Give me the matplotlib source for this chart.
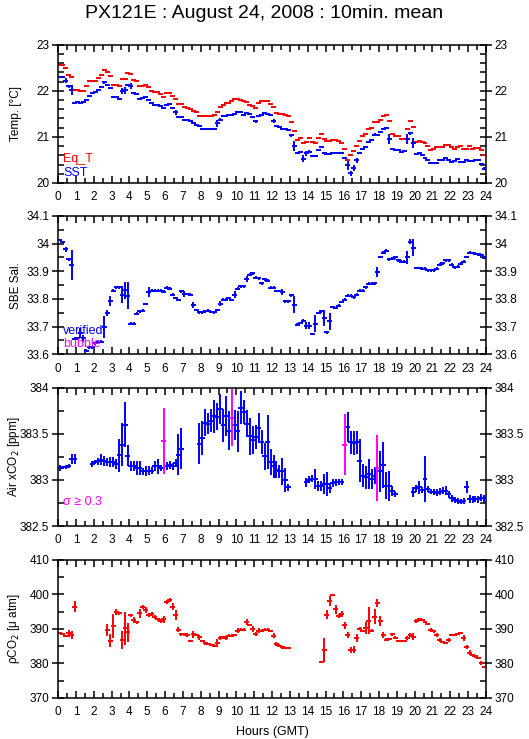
import numpy as np
import matplotlib.pyplot as plt
from matplotlib.ticker import MultipleLocator

plt.rcParams['font.family'] = ['Liberation Sans', 'DejaVu Sans']

nan = np.nan

# 10-minute means, one row per hour (6 values each)
eq_t = [
    [22.55, 22.55, 22.50, 22.35, 22.30, 22.02],
    [22.02, 22.00, 22.00, 22.10, 22.22, 22.22],
    [22.22, 22.28, 22.35, 22.44, 22.40, 22.33],
    [22.13, 22.13, 22.10, 22.26, 22.26, 22.39],
    [22.36, 22.23, 22.22, 22.10, 22.10, 22.12],
    [22.08, 22.00, 21.97, 21.97, 21.93, 21.87],
    [21.95, 21.95, 21.88, 21.83, 21.71, 21.71],
    [21.65, 21.63, 21.61, 21.57, 21.53, 21.45],
    [21.45, 21.45, 21.45, 21.45, 21.47, 21.55],
    [21.65, 21.70, 21.73, 21.73, 21.77, 21.82],
    [21.82, 21.80, 21.78, 21.76, 21.70, 21.66],
    [21.63, 21.73, 21.78, 21.78, 21.78, 21.72],
    [21.65, 21.51, 21.50, 21.49, 21.47, 21.45],
    [21.33, 21.13, 20.94, 20.97, 20.87, 20.88],
    [20.97, 20.89, 20.87, 20.97, 21.06, 20.95],
    [20.90, 20.92, 20.93, 20.93, 20.92, 20.87],
    [20.74, 20.50, 20.61, 20.70, 20.80, 20.91],
    [21.02, 21.06, 21.16, 21.20, 21.32, 21.32],
    [21.37, 21.46, 21.47, 21.34, 21.06, 21.02],
    [21.02, 20.95, 20.96, 21.17, 21.34, 21.22],
    [20.88, 20.92, 20.88, 20.86, 20.81, 20.71],
    [20.73, 20.78, 20.78, 20.78, 20.83, 20.83],
    [20.78, 20.74, 20.78, 20.80, 20.74, 20.74],
    [20.80, 20.74, 20.75, 20.76, 20.71, 20.61],
]

sst = [
    [22.29, 22.29, 22.22, 22.10, 22.01, 21.73],
    [21.76, 21.73, 21.75, 21.81, 21.89, 21.95],
    [21.98, 22.02, 22.08, 22.18, 22.12, 22.06],
    [21.87, 21.87, 21.82, 22.00, 22.01, 22.13],
    [22.10, 21.95, 21.94, 21.82, 21.85, 21.86],
    [21.79, 21.73, 21.69, 21.69, 21.66, 21.63],
    [21.69, 21.71, 21.63, 21.53, 21.44, 21.44],
    [21.37, 21.36, 21.34, 21.29, 21.26, 21.23],
    [21.16, 21.16, 21.16, 21.16, 21.16, 21.29],
    [21.37, 21.45, 21.46, 21.47, 21.48, 21.50],
    [21.54, 21.54, 21.47, 21.51, 21.49, 21.43],
    [21.34, 21.45, 21.48, 21.51, 21.50, 21.48],
    [21.34, 21.24, 21.22, 21.18, 21.16, 21.15],
    [21.03, 20.81, 20.64, 20.68, 20.53, 20.64],
    [20.68, 20.59, 20.59, 20.72, 20.79, 20.65],
    [20.63, 20.63, 20.65, 20.64, 20.65, 20.65],
    [20.55, 20.38, 20.21, 20.33, 20.49, 20.64],
    [20.73, 20.78, 20.88, 20.94, 21.05, 21.05],
    [21.10, 21.17, 21.19, 20.95, 20.73, 20.72],
    [20.72, 20.68, 20.69, 20.95, 21.08, 20.86],
    [20.63, 20.64, 20.61, 20.55, 20.50, 20.43],
    [20.44, 20.44, 20.50, 20.50, 20.55, 20.50],
    [20.46, 20.48, 20.51, 20.46, 20.46, 20.50],
    [20.48, 20.48, 20.49, 20.50, 20.41, 20.31],
]

sst_err = [
    [.02, .02, .06, .03, .11, .02],
    [.02, .02, .02, .02, .02, .02],
    [.02, .02, .02, .03, .02, .03],
    [.02, .02, .02, .06, .07, .02],
    [.06, .02, .02, .02, .02, .02],
    [.02, .02, .02, .02, .02, .02],
    [.02, .02, .02, .06, .02, .02],
    [.02, .02, .02, .02, .02, .02],
    [.02, .02, .02, .02, .02, .07],
    [.03, .02, .02, .02, .02, .02],
    [.02, .02, .02, .02, .02, .02],
    [.03, .02, .02, .02, .02, .02],
    [.05, .02, .02, .02, .02, .02],
    [.03, .11, .02, .02, .07, .05],
    [.04, .02, .02, .02, .02, .02],
    [.02, .02, .02, .02, .02, .02],
    [.02, .09, .05, .06, .05, .02],
    [.02, .02, .02, .02, .04, .02],
    [.02, .02, .02, .11, .02, .02],
    [.02, .02, .02, .11, .03, .11],
    [.02, .02, .02, .02, .02, .02],
    [.02, .02, .02, .02, .02, .02],
    [.02, .02, .02, .02, .02, .02],
    [.02, .02, .02, .02, .03, .03],
]

sal = [
    [34.013, 34.006, 33.979, 33.943, 33.923, 33.656],
    [33.658, 33.676, 33.658, 33.613, 33.625, 33.625],
    [33.640, 33.646, 33.646, 33.698, 33.749, 33.794],
    [33.830, 33.842, 33.842, 33.815, 33.831, 33.812],
    [33.710, 33.710, 33.746, 33.755, 33.757, 33.782],
    [33.824, 33.830, 33.830, 33.830, 33.830, 33.826],
    [33.840, 33.837, 33.815, 33.803, 33.796, 33.828],
    [33.818, 33.818, 33.815, 33.779, 33.760, 33.751],
    [33.751, 33.755, 33.757, 33.753, 33.751, 33.760],
    [33.783, 33.797, 33.797, 33.803, 33.796, 33.815],
    [33.837, 33.846, 33.846, 33.872, 33.887, 33.892],
    [33.877, 33.874, 33.857, 33.871, 33.866, 33.840],
    [33.840, 33.829, 33.829, 33.825, 33.791, 33.791],
    [33.813, 33.779, 33.707, 33.713, 33.721, 33.704],
    [33.704, 33.673, 33.711, 33.749, 33.755, 33.731],
    [33.680, 33.719, 33.771, 33.767, 33.776, 33.789],
    [33.797, 33.812, 33.812, 33.806, 33.815, 33.830],
    [33.830, 33.842, 33.855, 33.855, 33.857, 33.898],
    [33.952, 33.967, 33.975, 33.943, 33.946, 33.951],
    [33.940, 33.934, 33.934, 33.951, 34.007, 33.985],
    [33.912, 33.912, 33.910, 33.909, 33.904, 33.903],
    [33.904, 33.910, 33.924, 33.929, 33.939, 33.939],
    [33.924, 33.915, 33.917, 33.927, 33.934, 33.952],
    [33.967, 33.966, 33.963, 33.961, 33.958, 33.949],
]

sal_err = [
    [.005, .005, .010, .006, .055, .005],
    [.005, .018, .012, .005, .005, .005],
    [.005, .005, .005, .040, .012, .018],
    [.005, .005, .005, .030, .030, .050],
    [.005, .005, .005, .005, .005, .005],
    [.018, .005, .005, .005, .005, .005],
    [.005, .005, .005, .005, .005, .005],
    [.012, .005, .005, .010, .005, .005],
    [.005, .005, .005, .005, .005, .005],
    [.010, .005, .005, .005, .005, .012],
    [.005, .005, .005, .010, .005, .005],
    [.005, .005, .005, .005, .005, .005],
    [.005, .005, .005, .010, .005, .005],
    [.006, .030, .005, .005, .005, .012],
    [.012, .005, .030, .005, .005, .030],
    [.005, .030, .005, .005, .005, .005],
    [.005, .005, .005, .005, .005, .005],
    [.005, .005, .005, .005, .005, .018],
    [.005, .005, .005, .005, .005, .005],
    [.005, .005, .005, .024, .010, .030],
    [.005, .005, .005, .005, .005, .005],
    [.005, .005, .005, .005, .005, .005],
    [.005, .005, .005, .005, .005, .005],
    [.005, .005, .005, .005, .005, .005],
]

air = [
    [383.128, 383.135, 383.139, 383.150, 383.226, 383.226],
    [nan, nan, nan, nan, nan, 383.172],
    [383.194, 383.201, 383.219, 383.201, 383.194, 383.194],
    [383.194, 383.172, 383.266, 383.382, 383.600, 383.263],
    [383.154, 383.154, 383.128, 383.128, 383.092, 383.099],
    [383.099, 383.099, 383.146, 383.146, 383.128, 383.419],
    [383.154, 383.157, 383.146, 383.183, 383.274, 383.339],
    [nan, nan, nan, nan, nan, 383.393],
    [383.455, 383.619, 383.611, 383.644, 383.691, 383.684],
    [383.771, 383.590, 383.695, 383.535, 383.673, 383.593],
    [383.528, 383.782, 383.738, 383.611, 383.473, 383.430],
    [383.466, 383.564, 383.412, 383.255, 383.412, 383.194],
    [383.146, 383.110, 383.092, 383.092, 383.001, 382.921],
    [nan, nan, nan, nan, nan, 382.972],
    [383.001, 383.012, 383.012, 382.936, 382.936, 382.954],
    [382.957, 382.910, 382.965, 382.972, 382.976, 382.976],
    [383.382, 383.575, 383.408, 383.401, 383.408, 383.208],
    [383.045, 383.027, 383.063, 383.012, 383.045, 383.128],
    [383.092, 383.157, 382.936, 382.936, 382.881, 382.849],
    [nan, nan, nan, nan, nan, 382.874],
    [382.910, 382.918, 382.892, 383.008, 382.903, 382.874],
    [382.867, 382.863, 382.874, 382.885, 382.885, 382.845],
    [382.801, 382.783, 382.772, 382.765, 382.772, 382.921],
    [382.794, 382.790, 382.794, 382.790, 382.809, 382.801],
]

air_sd = [
    [.030, .018, .025, .025, .054, .054],
    [nan, nan, nan, nan, nan, .030],
    [.022, .036, .060, .054, .047, .054],
    [.054, .054, .180, .230, .243, .116],
    [.054, .054, .073, .080, .036, .054],
    [.047, .036, .054, .084, .036, .360],
    [.044, .044, .036, .044, .225, .225],
    [nan, nan, nan, nan, nan, .220],
    [.180, .145, .110, .127, .180, .145],
    [.163, .180, .220, .210, .310, .163],
    [.220, .180, .127, .145, .200, .150],
    [.127, .163, .127, .145, .290, .145],
    [.127, .090, .073, .145, .127, .036],
    [nan, nan, nan, nan, nan, .044],
    [.036, .036, .110, .054, .054, .110],
    [.127, .054, .044, .036, .036, .036],
    [.330, .163, .127, .127, .127, .236],
    [.127, .127, .163, .110, .090, .360],
    [.220, .250, .145, .163, .054, .036],
    [nan, nan, nan, nan, nan, .054],
    [.036, .073, .036, .250, .030, .030],
    [.036, .036, .036, .036, .044, .036],
    [.036, .036, .030, .030, .030, .065],
    [.047, .036, .036, .036, .036, .036],
]

pco2 = [
    [388.8, 388.6, 388.0, 388.7, 388.2, 396.4],
    [nan, nan, nan, nan, nan, nan],
    [nan, nan, nan, nan, 389.6, 386.5],
    [390.8, 394.8, 394.5, 386.8, 390.2, 389.0],
    [393.9, 392.6, 391.9, 394.5, 396.3, 395.5],
    [394.0, 394.3, 393.5, 392.7, 392.3, 392.7],
    [397.7, 398.4, 396.4, 394.0, 389.8, 388.4],
    [388.4, 388.2, 386.5, 388.4, 388.2, 387.5],
    [386.5, 385.8, 385.6, 385.3, 385.1, 385.8],
    [387.3, 387.5, 387.3, 388.0, 388.0, 388.2],
    [389.5, 389.8, 389.7, 391.9, 391.1, 390.0],
    [388.4, 389.5, 389.5, 389.7, 389.7, 389.4],
    [388.0, 385.6, 385.1, 384.6, 384.5, 384.5],
    [nan, nan, nan, nan, nan, nan],
    [nan, nan, nan, nan, 380.4, 383.8],
    [394.1, 398.0, 399.9, 395.6, 393.7, 394.3],
    [391.0, 388.2, 383.8, 383.9, 387.4, 390.0],
    [389.5, 390.3, 392.4, 389.5, 393.5, 397.5],
    [392.2, 388.2, 386.9, 387.1, 388.4, 387.4],
    [386.4, 386.4, 386.4, 387.4, 388.2, 387.7],
    [392.2, 392.7, 392.5, 392.0, 391.3, 389.6],
    [389.3, 388.2, 386.7, 386.2, 385.9, 386.7],
    [388.1, 388.3, 388.6, 388.8, 387.4, 384.7],
    [383.1, 382.3, 382.0, 381.6, 380.2, 378.9],
]

pco2_err = [
    [.3, .3, .3, 1.0, 1.2, 1.6],
    [nan, nan, nan, nan, nan, nan],
    [nan, nan, nan, nan, 1.7, 1.9],
    [3.4, .8, .5, 2.7, 4.8, 2.7],
    [.5, .8, .5, 1.3, .5, .8],
    [.6, .6, .6, .5, .5, 1.0],
    [.6, .6, 1.0, 1.5, .8, .4],
    [.4, .6, .4, 1.0, .4, .6],
    [.4, .4, .4, .4, .4, 1.2],
    [.6, .4, .4, .4, .4, .4],
    [.6, .4, .4, .8, .4, .8],
    [.6, .8, .4, .4, .4, .4],
    [.8, .6, .4, .3, .3, .3],
    [nan, nan, nan, nan, nan, nan],
    [nan, nan, nan, nan, .3, 3.4],
    [1.4, 1.4, .3, 1.4, .5, .8],
    [1.0, 1.0, .8, 1.0, 1.2, .4],
    [.3, 1.7, 3.8, .5, 2.1, 1.2],
    [1.4, .8, .3, .3, .5, .4],
    [.3, .3, .3, .5, .5, 1.0],
    [.5, .3, .3, .3, .3, .5],
    [.5, .5, .5, .3, .3, .6],
    [.3, .3, .3, .3, .8, .5],
    [.8, .4, .3, .3, .6, .3],
]

hours = (np.arange(144) + 0.5) / 6.0
HW = 0.14  # half width of the 10 min bar


def flat(a):
    return np.array(a, dtype=float).ravel()


def bars(ax, x, y, err, color):
    ok = ~np.isnan(y)
    ax.errorbar(x[ok], y[ok], xerr=HW, yerr=None if err is None else err[ok],
                fmt='none', ecolor=color, elinewidth=1.4, capsize=0)


def style(ax, ylim, major, minor, ylabel):
    ax.set_xlim(0, 24)
    ax.set_ylim(*ylim)
    ax.xaxis.set_major_locator(MultipleLocator(1))
    ax.xaxis.set_minor_locator(MultipleLocator(0.5))
    ax.yaxis.set_major_locator(MultipleLocator(major))
    ax.yaxis.set_minor_locator(MultipleLocator(minor))
    ax.yaxis.set_major_formatter(plt.FuncFormatter(lambda v, p: f'{v:g}'))
    ax.tick_params(axis='x', which='major', direction='in', top=True, length=5, width=1.1,
                   labelsize=8.5, pad=6)
    ax.tick_params(axis='x', which='minor', direction='in', top=True, length=3.5, width=1.1)
    ax.tick_params(axis='y', which='major', direction='inout', right=True, labelright=True,
                   length=9, width=1.1, labelsize=8.5, pad=2)
    ax.tick_params(axis='y', which='minor', direction='in', right=True, length=4, width=1.1)
    for s in ax.spines.values():
        s.set_linewidth(1.1)
    ax.set_ylabel(ylabel, fontsize=8.5)
    ax.yaxis.set_label_coords(-0.085, 0.5)


fig = plt.figure(figsize=(5.29, 7.39), dpi=100)
L, W, H = 0.110, 0.8085, 0.1872
ax1 = fig.add_axes([L, 0.7524, W, H])
ax2 = fig.add_axes([L, 0.5206, W, H])
ax3 = fig.add_axes([L, 0.2882, W, H])
ax4 = fig.add_axes([L, 0.0555, W, H])

# panel 1: temperatures
bars(ax1, hours, flat(eq_t), None, '#ff0000')
bars(ax1, hours, flat(sst), flat(sst_err), '#0000ff')
style(ax1, (20, 23), 1, 0.2, 'Temp. [°C]')
ax1.text(0.012, 0.15, 'Eq_T', color='#ff0000', transform=ax1.transAxes, fontsize=9)
ax1.text(0.012, 0.05, 'SST', color='#0000ff', transform=ax1.transAxes, fontsize=9)

# panel 2: salinity
bars(ax2, hours, flat(sal), flat(sal_err), '#0000ff')
style(ax2, (33.6, 34.1), 0.1, 0.05, 'SBE Sal.')
ax2.text(0.012, 0.15, 'verified', color='#0000ff', transform=ax2.transAxes, fontsize=9)
ax2.text(0.012, 0.05, 'bubble', color='#ff00ff', transform=ax2.transAxes, fontsize=9)

# panel 3: air xCO2, magenta where sigma >= 0.3
a = flat(air)
sd = flat(air_sd)
hi = sd >= 0.3
bars(ax3, hours[~hi], a[~hi], sd[~hi], '#0000ff')
bars(ax3, hours[hi], a[hi], sd[hi], '#ff00ff')
style(ax3, (382.5, 384), 0.5, 0.25, 'Air xCO$_2$ [ppm]')
ax3.text(0.012, 0.15, 'σ ≥ 0.3', color='#ff00ff', transform=ax3.transAxes, fontsize=9)

# panel 4: pCO2
bars(ax4, hours, flat(pco2), flat(pco2_err), '#ff0000')
style(ax4, (370, 410), 10, 5, 'ρCO$_2$ [μ atm]')
ax4.set_xlabel('Hours (GMT)', fontsize=9)
ax4.xaxis.set_label_coords(0.5, -0.2)

fig.suptitle('PX121E : August 24, 2008 : 10min. mean', fontsize=14, y=0.993)

fig.savefig('out.png', dpi=100)
